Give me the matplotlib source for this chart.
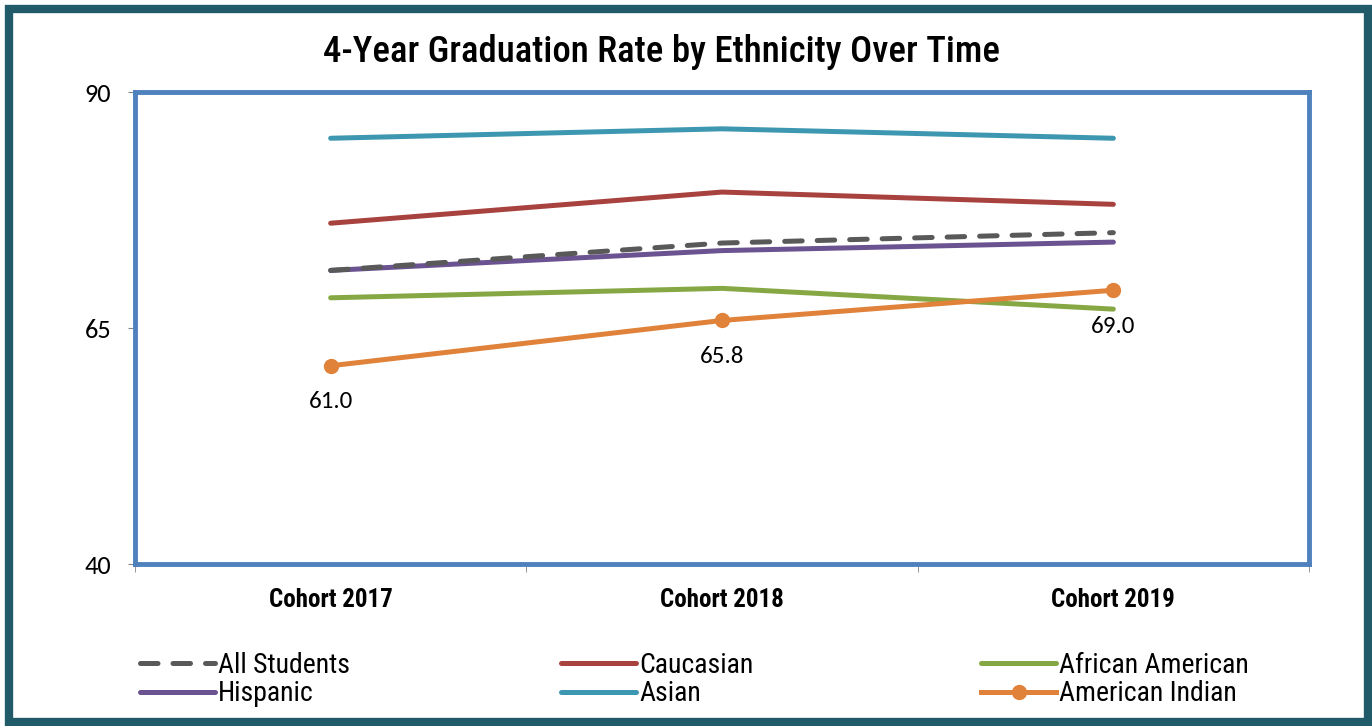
# 4-year graduation rate by ethnicity, cohort line chart.

import matplotlib
matplotlib.use('Agg')
import matplotlib.pyplot as plt
from matplotlib.patches import Rectangle

# --------------------------- DATA ---------------------------

cohorts = ['Cohort 2017', 'Cohort 2018', 'Cohort 2019']
all_students = [71.1, 74.0, 75.1]
caucasian = [76.1, 79.4, 78.1]
african_american = [68.2, 69.2, 67.0]
hispanic = [71.1, 73.2, 74.1]
asian = [85.1, 86.1, 85.1]
american_indian = [61.0, 65.8, 69.0]

y_ticks = [40, 65, 90]

# --------------------------- STYLE ---------------------------

narrow = ['Liberation Sans Narrow', 'Roboto Condensed', 'IBM Plex Sans Condensed', 'DejaVu Sans']
plain = ['Carlito', 'Lato', 'DejaVu Sans']
plt.rcParams['font.family'] = narrow

c_all = '#595959'
c_cauc = '#A8423F'
c_afam = '#86A844'
c_hisp = '#6B5290'
c_asian = '#3D97B0'
c_amind = '#E0823A'
c_frame = '#4F81BD'
c_border = '#215A69'

lw = 3.6

# --------------------------- PLOT ---------------------------

fig = plt.figure(figsize=(13.72, 7.26), dpi=100)
ax = fig.add_axes([135 / 1372, 1 - 564 / 726, 1174 / 1372, 472 / 726])

x = list(range(len(cohorts)))

h_all, = ax.plot(x, all_students, color=c_all, lw=lw, ls=(0, (3.5, 3.0)),
                 dash_capstyle='round', label='All Students', zorder=4)
h_cauc, = ax.plot(x, caucasian, color=c_cauc, lw=lw, solid_capstyle='round', label='Caucasian')
h_afam, = ax.plot(x, african_american, color=c_afam, lw=lw, solid_capstyle='round', label='African American')
h_hisp, = ax.plot(x, hispanic, color=c_hisp, lw=lw, solid_capstyle='round', label='Hispanic', zorder=3)
h_asian, = ax.plot(x, asian, color=c_asian, lw=lw, solid_capstyle='round', label='Asian')
h_amind, = ax.plot(x, american_indian, color=c_amind, lw=lw, marker='o', markersize=10,
                   label='American Indian', zorder=5)

# data labels under the American Indian points
for xi, v in zip(x, american_indian):
    ax.annotate(f'{v:.1f}', (xi, v), xytext=(0, -26), textcoords='offset points',
                ha='center', va='center', fontsize=18, family=plain)

ax.set_xlim(-0.5, len(cohorts) - 0.5)
ax.set_ylim(40, 90)
ax.set_yticks(y_ticks)
ax.set_yticklabels([str(t) for t in y_ticks], family=plain, fontsize=19)
ax.tick_params(axis='y', length=5, color='#868686', pad=12)

ax.set_xticks(x)
ax.set_xticklabels(cohorts, fontsize=18, fontweight='bold')
ax.tick_params(axis='x', which='major', length=0, pad=17)
ax.set_xticks([i - 0.5 for i in range(len(cohorts) + 1)], minor=True)
ax.tick_params(axis='x', which='minor', length=6, color='#868686', direction='out')

for s in ax.spines.values():
    s.set_color(c_frame)
    s.set_linewidth(3.5)

fig.text(0.4825, 0.929, '4-Year Graduation Rate by Ethnicity Over Time',
         ha='center', va='center', fontsize=26.5, fontweight='medium')

# legend: three columns placed the way the original spaces them
legend_cols = [([h_all, h_hisp], 140), ([h_cauc, h_asian], 561), ([h_afam, h_amind], 981)]
for handles, px in legend_cols:
    fig.legend(handles=handles, loc='upper left', bbox_to_anchor=(px / 1372, 1 - 652 / 726),
               frameon=False, fontsize=20, handlelength=2.7, handletextpad=0.12,
               labelspacing=0.05, borderpad=0, borderaxespad=0)

# outer border
fig.patches.append(Rectangle((9 / 1372, 1 - 722 / 726), 1359 / 1372, 713 / 726,
                             transform=fig.transFigure, fill=False,
                             edgecolor=c_border, linewidth=6))

fig.savefig('out.png', dpi=100)
